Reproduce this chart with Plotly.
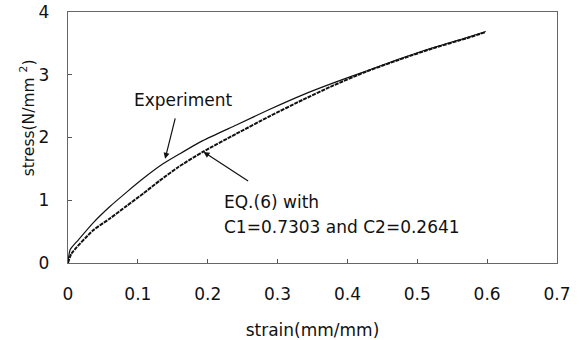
import plotly.graph_objects as go

exp_strain = [0, 0.003, 0.015, 0.036, 0.06, 0.084, 0.108, 0.136, 0.16, 0.193, 0.241, 0.289, 0.336, 0.38, 0.427, 0.474, 0.522, 0.57, 0.598]
exp_stress = [0, 0.21, 0.37, 0.64, 0.90, 1.13, 1.35, 1.58, 1.74, 1.95, 2.20, 2.45, 2.68, 2.87, 3.06, 3.25, 3.43, 3.59, 3.69]

eq_strain = [0, 0.005, 0.036, 0.06, 0.084, 0.108, 0.131, 0.158, 0.193, 0.241, 0.289, 0.336, 0.38, 0.427, 0.474, 0.522, 0.57, 0.598]
eq_stress = [0, 0.15, 0.52, 0.71, 0.91, 1.11, 1.31, 1.53, 1.77, 2.06, 2.34, 2.60, 2.83, 3.05, 3.24, 3.42, 3.58, 3.68]

x_ticks = [0, 0.1, 0.2, 0.3, 0.4, 0.5, 0.6, 0.7]
x_tick_labels = ["0", "0.1", "0.2", "0.3", "0.4", "0.5", "0.6", "0.7"]
y_ticks = [0, 1, 2, 3, 4]
y_tick_labels = ["0", "1", "2", "3", "4"]

FAM = "DejaVu Sans, Arial, sans-serif"
font = dict(family=FAM, size=17, color="#111")
tfont = dict(family=FAM, size=15.5, color="#111")
PAD = "\u00a0\u00a0\u2009"

fig = go.Figure()
fig.add_trace(go.Scatter(x=exp_strain, y=exp_stress, mode="lines",
                         line=dict(color="#111", width=1.2, shape="spline", smoothing=0.6), showlegend=False))
fig.add_trace(go.Scatter(x=eq_strain, y=eq_stress, mode="lines",
                         line=dict(color="#111", width=2, dash="4px,1px", shape="spline", smoothing=0.6), showlegend=False))

fig.add_annotation(x=0.166, y=2.6, text="Experiment", showarrow=False, font=font)
fig.add_annotation(x=0.139, y=1.66, ax=0.154, ay=2.33, axref="x", ayref="y",
                   text="", showarrow=True, arrowhead=2, arrowsize=1, arrowwidth=1.2, arrowcolor="#111")
fig.add_annotation(x=0.22, y=0.97, text="EQ.(6) with",
                   showarrow=False, xanchor="left", font=font)
fig.add_annotation(x=0.22, y=0.57, text="C1=0.7303 and C2=0.2641",
                   showarrow=False, xanchor="left", font=font)
fig.add_annotation(x=0.194, y=1.77, ax=0.26, ay=1.29, axref="x", ayref="y",
                   text="", showarrow=True, arrowhead=2, arrowsize=1, arrowwidth=1.2, arrowcolor="#111")
fig.add_annotation(xref="paper", yref="paper", x=-0.082, y=0.58, textangle=-90,
                   xanchor="center", yanchor="middle",
                   text="stress(N/mm <sup>2</sup>)", showarrow=False, font=tfont)

fig.update_xaxes(range=[0, 0.7], tickvals=x_ticks, ticktext=x_tick_labels,
                 ticks="inside", ticklen=4, tickcolor="#555",
                 showline=True, linecolor="#666", linewidth=1, mirror=True, automargin=False,
                 showgrid=False, zeroline=False, tickfont=font, ticklabelstandoff=16,
                 title=dict(text="strain(mm/mm)", font=font, standoff=21))
fig.update_yaxes(range=[0, 4], tickvals=y_ticks, ticktext=[t + PAD for t in y_tick_labels],
                 ticks="inside", ticklen=4, tickcolor="#555", ticklabeloverflow="allow",
                 showline=True, linecolor="#666", linewidth=1, mirror=True, automargin=False,
                 showgrid=False, zeroline=False, tickfont=font)

fig.update_layout(width=579, height=340, margin=dict(l=68, r=22, t=12, b=77),
                  plot_bgcolor="white", paper_bgcolor="white", font=font)

fig.write_html("out.html", config={"displayModeBar": False},
               post_script="document.body.style.margin='0';")
